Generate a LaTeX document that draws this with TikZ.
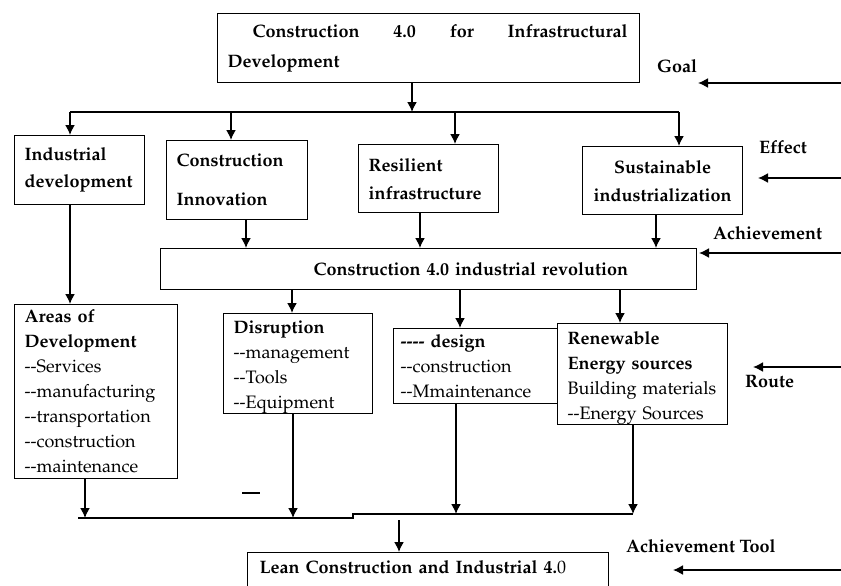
\documentclass[tikz,border=0pt]{standalone}
\usepackage[T1]{fontenc}
\usepackage{mathpazo}
\usepackage{xcolor}
\usepackage{tikz}
\usetikzlibrary{arrows.meta}

\newcommand{\twodash}{-{}-}

\begin{document}
\begin{tikzpicture}[x=1pt,y=-1pt]
			\tikzstyle{box}=[draw, line width=1.3pt, anchor=north west, align=left, inner xsep=10pt, inner ysep=0pt, font=\fontsize{18}{25}\selectfont]
			\tikzstyle{side}=[anchor=base west, inner sep=0pt, font=\bfseries\fontsize{18}{20}\selectfont]
			\tikzstyle{bus}=[draw, line width=1.6pt]
			\tikzset{flow/.style = {line width=1.6pt, -{Latex[length=10pt,width=10pt]}}}
			
			\useasboundingbox (0,0) rectangle (841,586);
			
			\node[box, minimum width=422pt, minimum height=69pt, text width=402pt](goal) at (217,13) {\bfseries\makebox[400pt][l]{\hspace*{25pt}Construction\hfill 4.0\hfill for\hfill Infrastructural}\\[5pt]Development};
			
			\node[box, minimum width=130pt, minimum height=69pt, text width=110pt](indus) at (14,135) {\bfseries Industrial\\[2pt]development};
			\node[box, minimum width=141pt, minimum height=79pt, text width=121pt](inno) at (166,140) {\bfseries Construction\\[14pt]Innovation};
			\node[box, minimum width=140pt, minimum height=68pt, text width=120pt](resil) at (358,144) {\bfseries Resilient\\[3pt]infrastructure};
			\node[box, minimum width=160pt, minimum height=68pt, text width=140pt, align=center](sust) at (582,146) {\bfseries Sustainable\\[3pt]industrialization};
			
			\node[box, minimum width=536pt, minimum height=41pt, text width=516pt](rev) at (160,248) {\bfseries\hspace*{143pt}Construction~4.0~industrial~revolution};
			
			\node[box, minimum width=163pt, minimum height=174pt, text width=143pt](areas) at (14,304) {\textbf{Areas~of}\\\textbf{Development}\\\twodash Services\\\twodash manufacturing\\\twodash transportation\\\twodash construction\\\twodash maintenance};
			\node[box, minimum width=149pt, minimum height=100pt, text width=129pt](disr) at (223,313) {\rule{0pt}{20pt}\textbf{Disruption}\\\twodash management\\\twodash Tools\\\twodash Equipment};
			\node[box, minimum width=164pt, minimum height=75pt, text width=150pt, inner xsep=7pt](design) at (393,328) {\textbf{-{}-{}-{}-~design}\\\twodash construction\\\twodash Mmaintenance};
			\node[box, minimum width=170pt, minimum height=100pt, text width=150pt](renew) at (557,323) {\rule{0pt}{21pt}\textbf{Renewable}\\\textbf{Energy~sources}\\Building~materials\\\twodash Energy~Sources};
			
			\node[box, inner xsep=12pt, inner ysep=8pt, text width=337pt, text depth=14pt](lean) at (247,552) {\bfseries Lean Construction and Industrial 4.{\mdseries 0}};
			
			% side labels
			\node[side](goaltxt) at (657,73) {Goal};
			\node[side](efftxt) at (759,153) {Effect};
			\node[side](achtxt) at (713,239) {Achievement};
			\node[side](routetxt) at (745,387) {Route};
			\node[side](tooltxt) at (626,552) {Achievement Tool};
			
			\coordinate (goalin) at (841,83);   \coordinate (goaltip) at (698,83);
			\coordinate (effin) at (841,178);   \coordinate (efftip) at (758,178);
			\coordinate (achin) at (841,253);   \coordinate (achtip) at (699,253);
			\coordinate (routein) at (841,367); \coordinate (routetip) at (753,367);
			\coordinate (toolin) at (841,570);  \coordinate (tooltip) at (673,570);
			\draw[flow](goalin) to (goaltip);
			\draw[flow](effin) to (efftip);
			\draw[flow](achin) to (achtip);
			\draw[flow](routein) to (routetip);
			\draw[flow](toolin) to (tooltip);
			
			% top bus
			\coordinate (busL) at (70,112);
			\coordinate (busR) at (679,112);
			\coordinate (goalx) at (412,112);
			\coordinate (bus2) at (231,112);
			\coordinate (bus3) at (455,112);
			\draw[bus](busL) -- (busR);
			\draw[flow](goalx |- goal.south) to (goalx);
			\draw[flow](busL) to (busL |- indus.north);
			\draw[flow](bus2) to (bus2 |- inno.north);
			\draw[flow](bus3) to (bus3 |- resil.north);
			\draw[flow](busR) to (busR |- sust.north);
			
			% into and out of the revolution
			\coordinate (in1) at (246,248);
			\coordinate (in2) at (420,248);
			\coordinate (in3) at (656,248);
			\draw[flow](in1 |- inno.south) to (in1);
			\draw[flow](in2 |- resil.south) to (in2);
			\draw[flow](in3 |- sust.south) to (in3);
			\draw[flow](busL |- indus.south) to (busL |- areas.north);
			
			\coordinate (out1) at (292,289);
			\coordinate (out2) at (460,289);
			\coordinate (out3) at (620,289);
			\draw[flow](out1) to (out1 |- disr.north);
			\draw[flow](out2) to (out2 |- design.north);
			\draw[flow](out3) to (out3 |- renew.north);
			
			% bottom bus
			\coordinate (lowL) at (78,518);
			\coordinate (low1) at (85,518);
			\coordinate (low2) at (293,518);
			\coordinate (jog) at (353,518);
			\coordinate (low3) at (456,514);
			\coordinate (low4) at (633,514);
			\coordinate (leanx) at (399,520);
			\draw[bus](lowL) -- (jog) -- (jog |- low4) -- (low4);
			\draw[flow](low1 |- areas.south) to (low1);
			\draw[flow](low2 |- disr.south) to (low2);
			\draw[flow](low3 |- design.south) to (low3);
			\draw[flow](low4 |- renew.south) to (low4);
			\draw[flow](leanx) to (leanx |- lean.north);
			
			\draw[line width=1.5pt](242,493) -- (260,493);
			
			\end{tikzpicture}
\end{document}
